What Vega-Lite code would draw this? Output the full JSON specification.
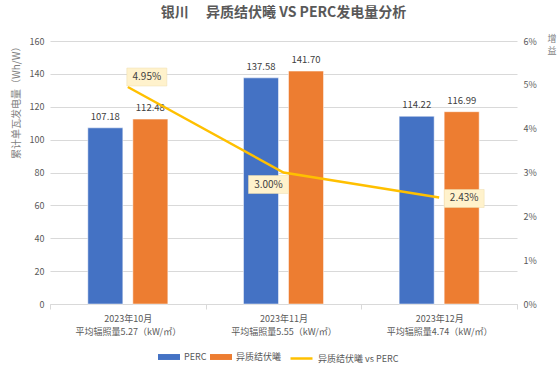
{
  "$schema": "https://vega.github.io/schema/vega-lite/v6.json",
  "autosize": "none",
  "width": 467,
  "height": 263,
  "padding": {"left": 50, "top": 41, "right": 43, "bottom": 62},
  "background": "white",
  "config": {
    "font": "Noto Sans CJK SC",
    "view": {"stroke": null},
    "axis": {"labelColor": "#595959", "labelFontSize": 9, "titleColor": "#7f7f7f", "titleFontWeight": "normal", "titleFontSize": 10}
  },
  "title": {"text": "银川\u3000\u00a0异质结伏曦 VS PERC发电量分析", "fontSize": 14, "fontWeight": "bold", "color": "#595959", "offset": 14, "anchor": "middle"},
  "datasets": {
    "bars": [
      {"month": "2023年10月|平均辐照量5.27（kW/㎡）", "type": "PERC", "value": 107.18},
      {"month": "2023年10月|平均辐照量5.27（kW/㎡）", "type": "异质结伏曦", "value": 112.48},
      {"month": "2023年11月|平均辐照量5.55（kW/㎡）", "type": "PERC", "value": 137.58},
      {"month": "2023年11月|平均辐照量5.55（kW/㎡）", "type": "异质结伏曦", "value": 141.70},
      {"month": "2023年12月|平均辐照量4.74（kW/㎡）", "type": "PERC", "value": 114.22},
      {"month": "2023年12月|平均辐照量4.74（kW/㎡）", "type": "异质结伏曦", "value": 116.99}
    ],
    "gain": [
      {"month": "2023年10月|平均辐照量5.27（kW/㎡）", "series": "异质结伏曦 vs PERC", "gain": 0.0495, "idx": 1},
      {"month": "2023年11月|平均辐照量5.55（kW/㎡）", "series": "异质结伏曦 vs PERC", "gain": 0.0300, "idx": 2},
      {"month": "2023年12月|平均辐照量4.74（kW/㎡）", "series": "异质结伏曦 vs PERC", "gain": 0.0243, "idx": 3}
    ]
  },
  "encoding": {
    "x": {
      "field": "month", "type": "nominal", "sort": null,
      "scale": {"paddingInner": 0, "paddingOuter": 0},
      "axis": {
        "title": null, "labelAngle": 0, "labelExpr": "split(datum.label, '|')",
        "labelFontSize": 9, "labelPadding": 5, "labelLineHeight": 13,
        "domainColor": "#d9d9d9", "tickColor": "#d9d9d9", "tickBand": "extent", "tickSize": 5, "grid": false
      }
    }
  },
  "layer": [
    {
      "data": {"name": "bars"},
      "encoding": {
        "xOffset": {"field": "type", "type": "nominal", "scale": {"paddingInner": 0.222, "paddingOuter": 0.84}},
        "y": {"field": "value", "type": "quantitative", "scale": {"domain": [0, 160]},
          "axis": {"title": "累计单瓦发电量（Wh/W）", "titleAnchor": "end", "titlePadding": 8, "values": [0,20,40,60,80,100,120,140,160], "labelOverlap": false, "grid": true, "gridColor": "#d9d9d9", "domain": false, "ticks": false, "labelPadding": 6}}
      },
      "layer": [
        {
          "mark": {"type": "bar", "stroke": "white", "strokeWidth": 0.5},
          "encoding": {
            "color": {"field": "type", "type": "nominal",
              "scale": {"domain": ["PERC", "异质结伏曦"], "range": ["#4472C4", "#ED7D31"]},
              "legend": {
                "title": null, "orient": "none", "direction": "horizontal", "legendX": 108, "legendY": 305,
                "labelFontSize": 9, "labelColor": "#595959", "symbolSize": 484, "columnPadding": 3, "labelOffset": 4,
                "symbolType": "M-1,-0.27L1,-0.27L1,0.27L-1,0.27Z", "symbolStrokeWidth": 0
              }}
          }
        },
        {
          "mark": {"type": "text", "dy": -11, "fontSize": 9.5, "color": "#404040"},
          "encoding": {
            "text": {"field": "value", "type": "quantitative", "format": ".2f"}
          }
        }
      ]
    },
    {
      "data": {"name": "gain"},
      "encoding": {
        "y": {"field": "gain", "type": "quantitative", "scale": {"domain": [0, 0.06]},
          "axis": {"orient": "right", "title": ["增", "益"], "titleAngle": 0, "titleX": 30, "titleY": -7, "titleAlign": "left", "titleBaseline": "top", "titleFontSize": 9, "titleLineHeight": 12, "format": ".0%", "values": [0,0.01,0.02,0.03,0.04,0.05,0.06], "labelOverlap": false, "grid": false, "domain": false, "ticks": false, "labelPadding": 6}}
      },
      "layer": [
        {
          "mark": {"type": "line", "strokeWidth": 2.5},
          "encoding": {
            "stroke": {"field": "series", "type": "nominal",
              "scale": {"domain": ["异质结伏曦 vs PERC"], "range": ["#FFC000"]},
              "legend": {"title": null, "orient": "none", "direction": "horizontal", "legendX": 239, "legendY": 305,
                "labelFontSize": 9, "labelColor": "#595959", "symbolType": "stroke", "symbolSize": 484, "symbolStrokeWidth": 2.5, "labelOffset": 4}}
          }
        },
        {
          "transform": [{"filter": "datum.idx === 1"}],
          "layer": [
            {"mark": {"type": "point", "shape": "M-1,-0.45L1,-0.45L1,0.45L-1,0.45Z", "size": 1600, "filled": true, "color": "#FFF2CC", "stroke": "#eedfae", "strokeWidth": 0.5, "opacity": 1, "xOffset": 19, "yOffset": -10}},
            {"mark": {"type": "text", "fontSize": 10, "color": "#404040", "dx": 19, "dy": -10}, "encoding": {"text": {"field": "gain", "type": "quantitative", "format": ".2%"}}}
          ]
        },
        {
          "transform": [{"filter": "datum.idx === 2"}],
          "layer": [
            {"mark": {"type": "point", "shape": "M-1,-0.45L1,-0.45L1,0.45L-1,0.45Z", "size": 1600, "filled": true, "color": "#FFF2CC", "stroke": "#eedfae", "strokeWidth": 0.5, "opacity": 1, "xOffset": -15, "yOffset": 12}},
            {"mark": {"type": "text", "fontSize": 10, "color": "#404040", "dx": -15, "dy": 12}, "encoding": {"text": {"field": "gain", "type": "quantitative", "format": ".2%"}}}
          ]
        },
        {
          "transform": [{"filter": "datum.idx === 3"}],
          "layer": [
            {"mark": {"type": "point", "shape": "M-1,-0.45L1,-0.45L1,0.45L-1,0.45Z", "size": 1600, "filled": true, "color": "#FFF2CC", "stroke": "#eedfae", "strokeWidth": 0.5, "opacity": 1, "xOffset": 25, "yOffset": 1}},
            {"mark": {"type": "text", "fontSize": 10, "color": "#404040", "dx": 25, "dy": 1}, "encoding": {"text": {"field": "gain", "type": "quantitative", "format": ".2%"}}}
          ]
        }
      ]
    }
  ],
  "resolve": {"scale": {"y": "independent"}}
}
